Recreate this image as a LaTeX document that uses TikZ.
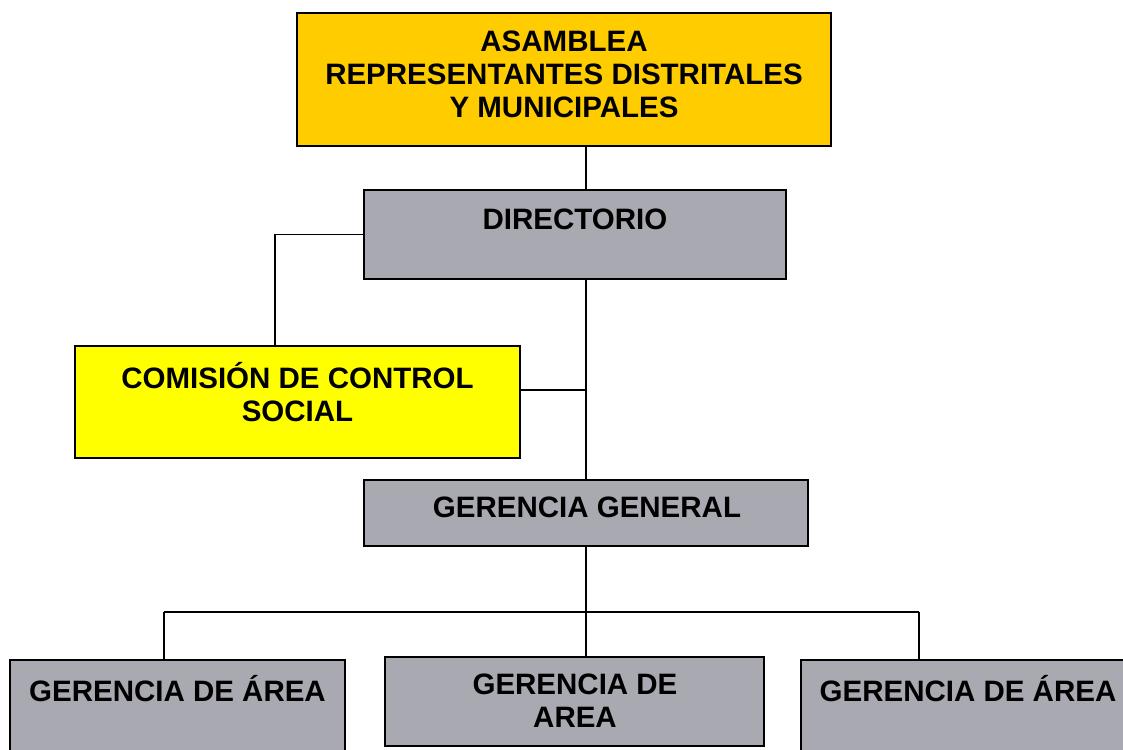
\documentclass[tikz,border=0pt]{standalone}
\usepackage{fontspec}
\setmainfont{Liberation Sans}
\definecolor{gold}{HTML}{FFCC00}
\definecolor{boxgray}{HTML}{A9A9B1}
\definecolor{yel}{HTML}{FFFF00}
\tikzset{
  box/.style={draw=black, line width=1.6pt, rectangle, inner sep=0pt},
  txt/.style={font=\fontsize{29.5}{33}\selectfont\bfseries, align=center, inner sep=0pt},
  conn/.style={draw=black, line width=1.4pt}
}
\begin{document}
\begin{tikzpicture}[x=1pt,y=-1pt]
\clip (0,0) rectangle (1123,749);
\fill[white] (0,0) rectangle (1123,749);
% boxes
\node[box, fill=gold, minimum width=534, minimum height=133] (asm) at (564,79.5) {};
\node[box, fill=boxgray, minimum width=422, minimum height=89] (dir) at (575,234.5) {};
\node[box, fill=yel, minimum width=445, minimum height=112] (com) at (297.5,402) {};
\node[box, fill=boxgray, minimum width=444, minimum height=66] (gg) at (586,513) {};
\node[box, fill=boxgray, minimum width=335, minimum height=120] (ga1) at (177.5,720) {};
\node[box, fill=boxgray, minimum width=379, minimum height=89] (ga2) at (574.5,701.5) {};
\node[box, fill=boxgray, minimum width=339, minimum height=120] (ga3) at (970.5,720) {};
% texts
\node[txt] (tasm) at (564,74) {ASAMBLEA\\REPRESENTANTES DISTRITALES\\Y MUNICIPALES};
\node[txt] (tdir) at (575,219) {DIRECTORIO};
\node[txt] (tcom) at (297.5,392) {COMISIÓN DE CONTROL\\SOCIAL};
\node[txt] (tgg) at (587,507) {GERENCIA GENERAL};
\node[txt] (tga1) at (177.5,689) {GERENCIA DE ÁREA};
\node[txt] (tga2) at (575,701) {GERENCIA DE\\AREA};
\node[txt] (tga3) at (968,689) {GERENCIA DE ÁREA};
% connectors
\coordinate (cl) at (275,346);
\coordinate (bus) at (586,612);
\coordinate (b1) at (164,612);
\coordinate (b3) at (919,612);
\draw[conn] (asm.south -| gg.north) -- (dir.north -| gg.north);
\draw[conn] (dir.west) -| (cl);
\draw[conn] (dir.south -| gg.north) -- (gg.north);
\draw[conn] ([yshift=12pt]com.east) -- ([yshift=12pt]com.east -| gg.north);
\draw[conn] (gg.south) -- (bus);
\draw[conn] (b1) -- (b3);
\draw[conn] (b1) -- (b1 |- ga1.north);
\draw[conn] (bus) -- (bus |- ga2.north);
\draw[conn] (b3) -- (b3 |- ga3.north);
\end{tikzpicture}
\end{document}
